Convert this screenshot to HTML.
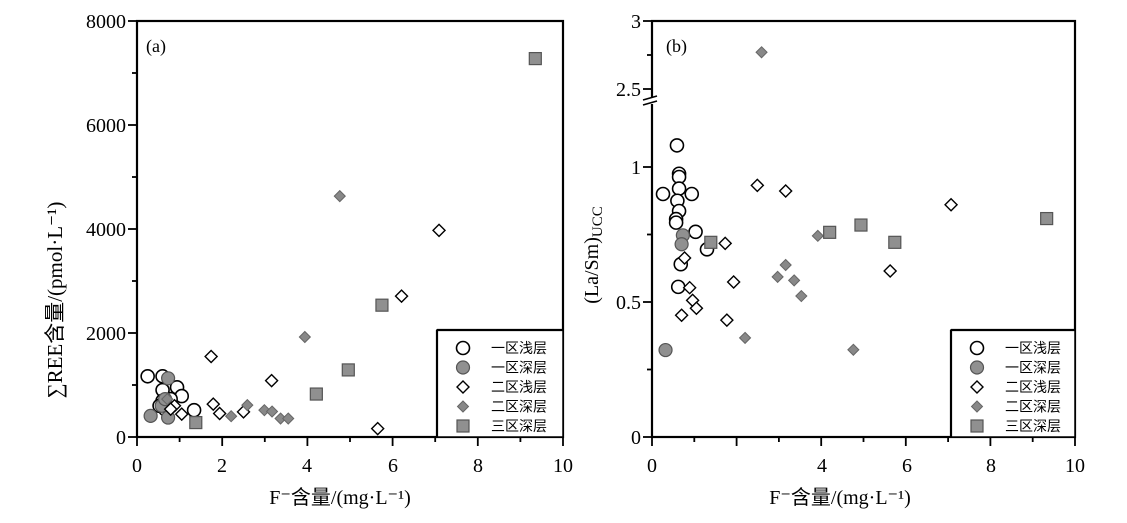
<!DOCTYPE html><html><head><meta charset="utf-8"><style>body{margin:0;background:#fff}svg{display:block}text{font-family:"Liberation Serif","Noto Serif CJK SC",serif;fill:#000}.cj{font-family:"Liberation Serif","Noto Sans CJK SC",sans-serif}</style></head><body>
<svg id="s" width="1127" height="523" viewBox="0 0 1127 523" xmlns="http://www.w3.org/2000/svg">
<g font-size="20">
<text x="126" y="28" text-anchor="end">8000</text>
<text x="126" y="132" text-anchor="end">6000</text>
<text x="126" y="236" text-anchor="end">4000</text>
<text x="126" y="340" text-anchor="end">2000</text>
<text x="126" y="444" text-anchor="end">0</text>
<text x="137" y="472" text-anchor="middle">0</text><text x="222" y="472" text-anchor="middle">2</text><text x="307" y="472" text-anchor="middle">4</text><text x="393" y="472" text-anchor="middle">6</text><text x="478" y="472" text-anchor="middle">8</text><text x="563" y="472" text-anchor="middle">10</text>
<text x="641" y="28" text-anchor="end">3</text>
<text x="641" y="96" text-anchor="end">2.5</text>
<text x="641" y="174" text-anchor="end">1</text>
<text x="641" y="309" text-anchor="end">0.5</text>
<text x="641" y="444" text-anchor="end">0</text>
<text x="652" y="472" text-anchor="middle">0</text><text x="822" y="472" text-anchor="middle">4</text><text x="907" y="472" text-anchor="middle">6</text><text x="991" y="472" text-anchor="middle">8</text><text x="1075" y="472" text-anchor="middle">10</text>
<text x="146" y="52" font-size="18">(a)</text><text x="666" y="52" font-size="18">(b)</text>
<text x="340" y="504" text-anchor="middle" class="cj">F⁻含量/(mg·L⁻¹)</text>
<text x="840" y="504" text-anchor="middle" class="cj">F⁻含量/(mg·L⁻¹)</text>
<text transform="translate(62,300) rotate(-90)" text-anchor="middle" class="cj" font-size="21">∑REE含量/(pmol·L⁻¹)</text>
<text transform="translate(598,255) rotate(-90)" text-anchor="middle">(La/Sm)<tspan font-size="15" dy="4">UCC</tspan></text>
</g>
<g id="g"></g>
</svg>
<script>
var g=document.getElementById('g'),NS='http://www.w3.org/2000/svg';
function el(t,a){var e=document.createElementNS(NS,t);for(var k in a)e.setAttribute(k,a[k]);g.appendChild(e);return e;}
function mk(t,x,y){
 if(t==0)el('circle',{cx:x,cy:y,r:6.5,fill:'#fff',stroke:'#000','stroke-width':1.6});
 if(t==1)el('circle',{cx:x,cy:y,r:6.5,fill:'#909090',stroke:'#555','stroke-width':1.2});
 if(t==2)el('polygon',{points:[x,y-6,x+6,y,x,y+6,x-6,y].join(','),fill:'#fff',stroke:'#000','stroke-width':1.4});
 if(t==3)el('polygon',{points:[x,y-5.5,x+5.5,y,x,y+5.5,x-5.5,y].join(','),fill:'#888',stroke:'#666','stroke-width':1});
 if(t==4)el('rect',{x:x-6,y:y-6,width:12,height:12,fill:'#909090',stroke:'#555','stroke-width':1.2});}
function ax(L,R,T,B){el('rect',{x:L,y:T,width:R-L,height:B-T,fill:'none',stroke:'#000','stroke-width':2.2});}
function line(a,b,c,d,w){el('line',{x1:a,y1:b,x2:c,y2:d,stroke:'#000','stroke-width':w||1.8});}
ax(137,563,21,437);
for(var i=0;i<=10;i++){var x=137+i*42.6;line(x,437,x,i%2?442:446);}
for(var i=0;i<=8;i++){var y=437-i*52;line(137,y,i%2?132:128,y);}
var A=[[0,[[.25,1168],[.6,1168],[.94,955],[.6,903],[1.05,787],[.6,697],[.71,665],[.53,600],[.66,535],[1.34,516],[.79,729]]],
[1,[[.73,1129],[.32,406],[.73,374],[.58,600],[.66,729]]],
[2,[[1.74,1548],[3.16,1084],[1.79,632],[1.94,452],[2.5,484],[1.05,439],[.88,600],[6.21,2710],[7.09,3974],[5.65,161],[.79,535]]],
[3,[[4.76,4632],[3.94,1923],[2.59,613],[2.21,400],[2.99,516],[3.17,490],[3.37,355],[3.55,355],[.71,729]]],
[4,[[9.35,7277],[5.75,2535],[4.96,1290],[4.21,826],[1.38,277]]]];
A.forEach(function(s){s[1].forEach(function(p){mk(s[0],137+p[0]*42.6,437-p[1]*0.052);});});
ax(652,1075,21,437);
for(var i=0;i<=10;i++){var x=652+i*42.3;line(x,437,x,i%2?442:446);}
[0,.25,.5,.75,1].forEach(function(v,i){var y=437-v*270;line(652,y,i%2?647:643,y);});
[2.5,2.75,3].forEach(function(v,i){var y=89-(v-2.5)*136;line(652,y,i%2?647:643,y);});
el('rect',{x:643,y:97,width:14,height:7,fill:'#fff'});
line(643,100,657,96,1.6);line(643,105,657,101,1.6);
function by(v){return v>2?89-(v-2.5)*136:437-v*270;}
var B=[[0,[[.59,1.08],[.64,.975],[.64,.963],[.26,.9],[.64,.92],[.94,.9],[.6,.875],[.64,.837],[.57,.807],[.57,.794],[1.03,.76],[1.3,.695],[.68,.64],[.62,.556]]],
[1,[[.73,.747],[.7,.714],[.32,.322]]],
[2,[[2.49,.932],[3.16,.911],[7.07,.86],[1.73,.717],[.77,.663],[1.93,.574],[.89,.553],[.96,.506],[1.05,.477],[.7,.451],[1.77,.433],[5.63,.615]]],
[3,[[2.59,2.77],[3.92,.745],[3.16,.637],[2.97,.593],[3.36,.58],[3.53,.522],[2.2,.367],[4.76,.323]]],
[4,[[1.39,.721],[4.2,.758],[4.94,.785],[5.74,.721],[9.33,.809]]]];
B.forEach(function(s){s[1].forEach(function(p){mk(s[0],652+p[0]*42.3,by(p[1]));});});
var names=['一区浅层','一区深层','二区浅层','二区深层','三区深层'];
[[437,563],[951,1075]].forEach(function(b){
 el('rect',{x:b[0],y:330,width:b[1]-b[0],height:107,fill:'#fff',stroke:'#000','stroke-width':1.5});
 line(b[0],330,b[0],437,2.2);line(b[0],330,b[1],330,2.2);
 for(var i=0;i<5;i++){var y=348+i*19.5;mk(i,b[0]+26,y);
  var t=el('text',{x:b[0]+54,y:y+5,'font-size':14,'class':'cj',fill:'#333'});t.textContent=names[i];}
});
</script>
</body></html>
